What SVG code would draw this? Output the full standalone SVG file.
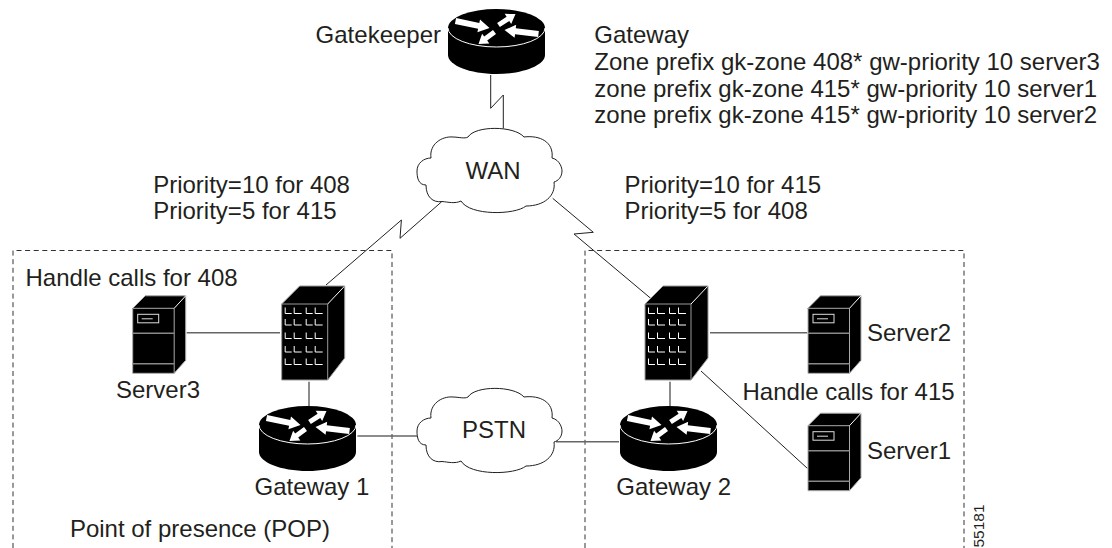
<svg xmlns="http://www.w3.org/2000/svg" width="1112" height="548" viewBox="0 0 1112 548">
<style>
text{font-family:"Liberation Sans",Arial,sans-serif;font-size:24px;fill:#231f20}
.conn{fill:none;stroke:#231f20;stroke-width:1}
.gray{fill:none;stroke:#666;stroke-width:1.5}
.dash{fill:none;stroke:#333;stroke-width:1;stroke-dasharray:5 3.6}
.cloud{fill:#fff;stroke:#231f20;stroke-width:1}
</style>
<defs>
<g id="router">
<path d="M-48.5,0V27C-48.5,37 -27,46 0,46S48.5,37 48.5,27V0Z" fill="#000"/>
<ellipse cx="0" cy="0" rx="48.5" ry="19" fill="#000"/>
<path d="M-48.5,0A48.5,19 0 0 0 48.5,0" fill="none" stroke="#fff" stroke-width="1"/>
<path fill="#fff" d="M-40.4,-9.9L-17.2,-5.1L-16.5,-8.6L-7,0L-19.1,4.2L-18.4,.7L-41.6,-4.1Z"/>
<path fill="#fff" d="M42.35,3L19.25,.3L19.66,-3.15L8,2L18.1,9.75L18.55,6.3L41.65,9Z"/>
<path fill="#fff" d="M.65,-5.1L10.09,-11.24L8.2,-14.18L19,-14L14.68,-4.1L12.79,-7.04L3.35,-.9Z"/>
<path fill="#fff" d="M-.5,6L-9.3,12.6L-7.2,15.4L-18,16L-14.4,5.8L-12.3,8.6L-3.5,2Z"/>
</g>
<g id="tower">
<path d="M0,0L18,-18H63V54L46,76H0Z" fill="#000"/>
<path d="M46,0L63,-18" stroke="#fff" stroke-width="1" fill="none"/>
<path d="M0,76V0L18,-18H63V54L46,76H0M0,0H46V76" fill="none" stroke="#999" stroke-width="1"/>
<path fill="none" stroke="#fff" stroke-width="1" d="M3.5,3.5v6h6.5M12.5,3.5v6h7.5M24.5,3.5v6h6.5M33.5,3.5v6h7.5M3.5,15v6h6.5M12.5,15v6h7.5M24.5,15v6h6.5M33.5,15v6h7.5M3.5,28.5v6h6.5M12.5,28.5v6h7.5M24.5,28.5v6h6.5M33.5,28.5v6h7.5M3.5,42v6h6.5M12.5,42v6h7.5M24.5,42v6h6.5M33.5,42v6h7.5M3.5,54.5v6h6.5M12.5,54.5v6h7.5M24.5,54.5v6h6.5M33.5,54.5v6h7.5"/>
</g>
<g id="server">
<path d="M0,0L12.5,-12.5H53V52L41.5,65H0Z" fill="#000"/>
<path d="M0,65V0L12.5,-12.5H53V52L41.5,65H0M0,0H41.5V65" fill="none" stroke="#aaa" stroke-width="1"/>
<path d="M41.5,0L53,-12.5" stroke="#fff" stroke-width="1" fill="none"/>
<path d="M0,25H41.5M0,55.5H41.5" stroke="#888" stroke-width="1.5"/>
<rect x="5" y="6" width="21" height="8.5" fill="none" stroke="#ddd" stroke-width="1"/>
<path d="M9,10.500H20" stroke="#ddd" stroke-width="1"/>
</g>
<path id="cloudShape" d="M42,71.5C33,73 26,67 26,55C18,55 17,47 17,41C17,33 24,28 31,28C29,14 42,6 53,7C58,7 65,9 68,7C75,-4.5 114,-4.5 124,7C140,5 154,12 152,28C160,30 162,38 162,41C162,47 158,51 154,52C156,66 144,76 126,76C115,85 70,86 61,71C55,74 48,72 42,71.5Z"/>
</defs>
<rect width="1112" height="548" fill="#fff"/>
<g id="boundaries">
<path class="dash" d="M13,548V250.5H392V548"/>
<path class="dash" d="M585,548V250.5H964V548"/>
</g>
<g id="connectors">
<path class="conn" d="M490.7,75V108.3L503.3,95V128.5"/>
<path class="conn" d="M441.7,201.7L400,238.3L401.4,220L326,285"/>
<path class="conn" d="M552.7,198.3L593.3,232.3L574,234L650.7,298.3"/>
<path class="gray" d="M186.7,332.7H280"/>
<path class="gray" d="M710,332.7H807.3"/>
<path class="gray" d="M309,381.7V406"/>
<path class="gray" d="M670,381.7V406"/>
<path class="conn" d="M701,371L807.3,468.3"/>
<path class="gray" d="M357.4,436H417.4"/>
<path class="gray" d="M556,441.7H619"/>
</g>
<g id="gatekeeper"><use href="#router" x="496.5" y="28"/><text x="315.6" y="42.7">Gatekeeper</text></g>
<g id="wan"><use href="#cloudShape" class="cloud" x="400" y="130"/><text x="465.6" y="179">WAN</text></g>
<g id="pstn"><use href="#cloudShape" class="cloud" x="400" y="390"/><text x="462" y="438.3">PSTN</text></g>
<g id="gateway1"><use href="#router" x="307.5" y="425"/><text x="254.6" y="494.7">Gateway 1</text></g>
<g id="gateway2"><use href="#router" x="668.5" y="425"/><text x="616.3" y="494.7">Gateway 2</text></g>
<g id="tower1"><use href="#tower" x="281.7" y="304"/></g>
<g id="tower2"><use href="#tower" x="645" y="304"/></g>
<g id="server3"><use href="#server" x="132.7" y="308.3"/><text x="116" y="398">Server3</text></g>
<g id="server2"><use href="#server" x="808" y="308.3"/><text x="867" y="341.3">Server2</text></g>
<g id="server1"><use href="#server" x="808" y="425.7"/><text x="867" y="459">Server1</text></g>
<g id="labels">
<text x="594.3" y="42.7">Gateway</text>
<text x="594.3" y="69.5">Zone prefix gk-zone 408* gw-priority 10 server3</text>
<text x="594.3" y="97.3">zone prefix gk-zone 415* gw-priority 10 server1</text>
<text x="594.3" y="123.3">zone prefix gk-zone 415* gw-priority 10 server2</text>
<text x="153.2" y="192.7">Priority=10 for 408</text>
<text x="153.2" y="218.7">Priority=5 for 415</text>
<text x="624.4" y="192.7">Priority=10 for 415</text>
<text x="624.4" y="218.7">Priority=5 for 408</text>
<text x="25.5" y="286">Handle calls for 408</text>
<text x="742.5" y="399.7">Handle calls for 415</text>
<text x="69.9" y="536.7">Point of presence (POP)</text>
<text transform="translate(984,547.5) rotate(-90)" style="font-size:15.5px">55181</text>
</g>
</svg>
